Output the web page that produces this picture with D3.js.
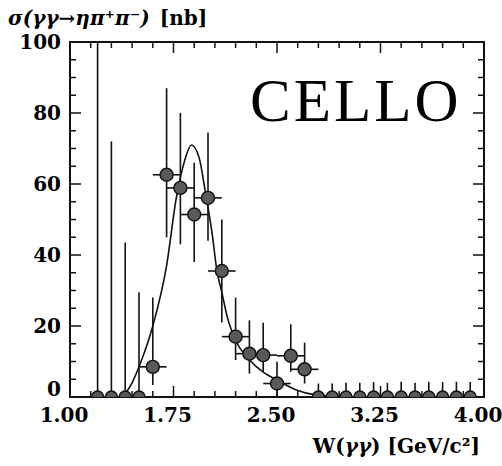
<!DOCTYPE html>
<html>
<head>
<meta charset="utf-8">
<script src="https://cdn.jsdelivr.net/npm/d3@7"></script>
<style>
body { margin: 0; background: #fff; }
svg { display: block; }
</style>
</head>
<body>
<div id="chart"></div>
<script>
'use strict';

// Measured cross section, one entry per W bin (GeV)
var wBins    = [1.2, 1.3, 1.4, 1.5, 1.6, 1.7, 1.8, 1.9, 2.0, 2.1, 2.2, 2.3, 2.4, 2.5, 2.6, 2.7,
                2.8, 2.9, 3.0, 3.1, 3.2, 3.3, 3.4, 3.5, 3.6, 3.7, 3.8, 3.9];
var sigma    = [0, 0, 0, 0, 8.5, 62.6, 58.9, 51.4, 56.1, 35.5, 17.0, 12.2, 11.8, 3.8, 11.6, 7.8,
                0, 0, 0, 0, 0, 0, 0, 0, 0, 0, 0, 0];
var errLow   = [0, 0, 0, 0, 3.4, 45.0, 43.0, 38.0, 44.0, 21.0, 10.4, 6.6, 7.1, 0, 7.1, 3.8,
                0, 0, 0, 0, 0, 0, 0, 0, 0, 0, 0, 0];
var errHigh  = [130, 72, 43.5, 29.5, 28.0, 87.0, 80.0, 66.0, 74.5, 50.0, 28.0, 21.6, 20.9, 9.9, 20.5, 15.3,
                3.8, 3.8, 4.0, 4.0, 4.2, 4.0, 4.3, 4.0, 4.3, 4.2, 4.3, 4.2];
var wErr     = [0, 0, 0, 0, 0.1, 0.1, 0.1, 0.1, 0.1, 0.1, 0.1, 0.1, 0.1, 0.1, 0.1, 0.1,
                0, 0, 0, 0, 0, 0, 0, 0, 0, 0, 0, 0];

// Resonance fit
var fitW     = [1.38, 1.45, 1.51, 1.60, 1.70, 1.77, 1.83, 1.88, 1.935, 1.98, 2.03, 2.065, 2.10, 2.14,
                2.20, 2.30, 2.40, 2.50, 2.64, 2.78, 2.95, 3.10];
var fitSigma = [0, 4, 9.5, 20, 37, 56, 66.5, 71, 67.5, 58, 46, 35.5, 29.5, 22.5,
                16, 10.5, 7, 4.8, 2.0, 0.6, 0.1, 0];

// Axis ticks
var xTickLabels = ['1.00', '1.75', '2.50', '3.25', '4.00'];
var xMinorStep = 0.15;
var yTickLabels = ['0', '20', '40', '60', '80', '100'];
var yMinorStep = 5;

var data = wBins.map(function(w, i) {
	return { w: w, s: sigma[i], lo: errLow[i], hi: errHigh[i], dw: wErr[i] };
});

var width = 502, height = 466;
var margin = { top: 42, right: 18, bottom: 69, left: 70 };

var svg = d3.select('#chart')
	.append('svg')
	.attr('width', width)
	.attr('height', height);

var x = d3.scaleLinear().domain([1, 4]).range([margin.left, width - margin.right]);
var y = d3.scaleLinear().domain([0, 100]).range([height - margin.bottom, margin.top]);

var x0 = x.range()[0], x1 = x.range()[1];
var y0 = y.range()[0], y1 = y.range()[1];

svg.append('clipPath')
	.attr('id', 'plot-clip')
	.append('rect')
	.attr('x', x0)
	.attr('y', y1)
	.attr('width', x1 - x0)
	.attr('height', y0 - y1);

// Ticks on all four sides, pointing inward
var xMajor = xTickLabels.map(Number);
var xMinor = d3.range(1, 4.0001, xMinorStep);
var yMajor = yTickLabels.map(Number);
var yMinor = d3.range(0, 100.001, yMinorStep);

var ticks = svg.append('g').attr('stroke', '#111').attr('stroke-width', 1.5);

xMinor.forEach(function(v) {
	var major = xMajor.some(function(m) { return Math.abs(m - v) < 1e-6; });
	var len = major ? 11 : 6;
	ticks.append('line').attr('x1', x(v)).attr('x2', x(v)).attr('y1', y0).attr('y2', y0 - len);
	ticks.append('line').attr('x1', x(v)).attr('x2', x(v)).attr('y1', y1).attr('y2', y1 + len);
});

yMinor.forEach(function(v) {
	var major = yMajor.indexOf(v) >= 0;
	var len = major ? 11 : 6;
	ticks.append('line').attr('y1', y(v)).attr('y2', y(v)).attr('x1', x0).attr('x2', x0 + len);
	ticks.append('line').attr('y1', y(v)).attr('y2', y(v)).attr('x1', x1).attr('x2', x1 - len);
});

// Frame
svg.append('rect')
	.attr('x', x0)
	.attr('y', y1)
	.attr('width', x1 - x0)
	.attr('height', y0 - y1)
	.attr('fill', 'none')
	.attr('stroke', '#111')
	.attr('stroke-width', 2);

// Tick labels
var labelFont = "'DejaVu Serif', serif";

svg.append('g')
	.selectAll('text')
	.data(yTickLabels)
	.enter()
	.append('text')
	.attr('x', x0 - 9)
	.attr('y', function(d) { return y(+d); })
	.attr('dy', function(d) { return +d === 0 ? '-0.05em' : '0.36em'; })
	.attr('text-anchor', 'end')
	.attr('font-family', labelFont)
	.attr('font-weight', 'bold')
	.attr('font-size', 20)
	.text(function(d) { return d; });

svg.append('g')
	.selectAll('text')
	.data(xTickLabels)
	.enter()
	.append('text')
	.attr('x', function(d) { return x(+d) - 6; })
	.attr('y', y0 + 25)
	.attr('text-anchor', 'middle')
	.attr('font-family', labelFont)
	.attr('font-weight', 'bold')
	.attr('font-size', 20)
	.text(function(d) { return d; });

// Axis titles
var yTitle = svg.append('text')
	.attr('x', 8)
	.attr('y', 25)
	.attr('font-family', labelFont)
	.attr('font-weight', 'bold')
	.attr('font-size', 20);
yTitle.append('tspan').attr('font-style', 'italic').text('σ(γγ→ηπ⁺π⁻)');
yTitle.append('tspan').attr('dx', 10).text('[nb]');

var xTitle = svg.append('text')
	.attr('x', x1 - 4)
	.attr('y', 453)
	.attr('text-anchor', 'end')
	.attr('font-family', labelFont)
	.attr('font-weight', 'bold')
	.attr('font-size', 20);
xTitle.append('tspan').text('W(');
xTitle.append('tspan').attr('font-style', 'italic').text('γγ');
xTitle.append('tspan').text(') [GeV/c²]');

// Experiment label
svg.append('text')
	.attr('x', 250)
	.attr('y', 121)
	.attr('font-family', "'Liberation Serif', serif")
	.attr('font-size', 61)
	.attr('letter-spacing', 3)
	.text('CELLO');

var plot = svg.append('g').attr('clip-path', 'url(#plot-clip)');

// Fit curve
var line = d3.line()
	.x(function(d) { return x(d[0]); })
	.y(function(d) { return y(d[1]); })
	.curve(d3.curveMonotoneX);

plot.append('path')
	.datum(d3.zip(fitW, fitSigma))
	.attr('d', line)
	.attr('fill', 'none')
	.attr('stroke', '#111')
	.attr('stroke-width', 1.6);

// Error bars
var bars = plot.append('g').attr('stroke', '#111').attr('stroke-width', 1.6);

bars.selectAll('.vbar')
	.data(data)
	.enter()
	.append('line')
	.attr('class', 'vbar')
	.attr('x1', function(d) { return x(d.w); })
	.attr('x2', function(d) { return x(d.w); })
	.attr('y1', function(d) { return y(d.lo); })
	.attr('y2', function(d) { return y(d.hi); });

bars.selectAll('.hbar')
	.data(data.filter(function(d) { return d.dw > 0; }))
	.enter()
	.append('line')
	.attr('class', 'hbar')
	.attr('x1', function(d) { return x(d.w - d.dw); })
	.attr('x2', function(d) { return x(d.w + d.dw); })
	.attr('y1', function(d) { return y(d.s); })
	.attr('y2', function(d) { return y(d.s); });

// Markers (zero points end up as half discs on the axis)
plot.selectAll('.pt')
	.data(data)
	.enter()
	.append('circle')
	.attr('class', 'pt')
	.attr('cx', function(d) { return x(d.w); })
	.attr('cy', function(d) { return y(d.s); })
	.attr('r', function(d) { return d.s > 0 ? 6.5 : 6; })
	.attr('fill', '#5a5a5a')
	.attr('stroke', '#111')
	.attr('stroke-width', 1.4);
</script>
</body>
</html>
